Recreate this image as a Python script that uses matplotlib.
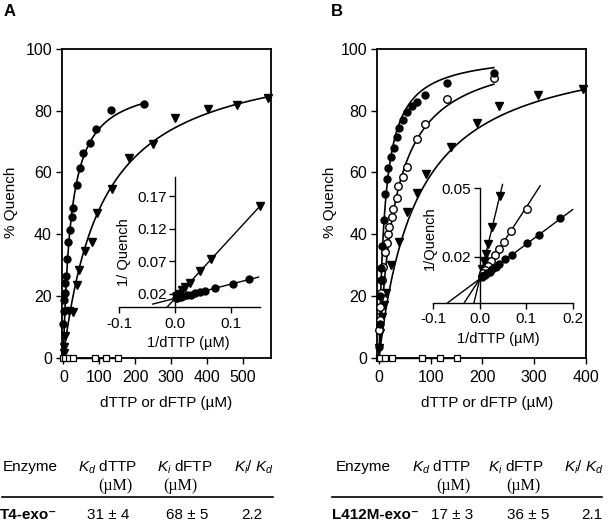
import numpy as np
import matplotlib
matplotlib.use("Agg")
import matplotlib.pyplot as plt
from matplotlib.lines import Line2D

plt.rcParams['font.family'] = ['Liberation Sans', 'DejaVu Sans']
plt.rcParams['axes.unicode_minus'] = False
plt.rcParams['mathtext.fontset'] = 'custom'
plt.rcParams['mathtext.rm'] = 'Liberation Sans'
plt.rcParams['mathtext.it'] = 'Liberation Sans:italic'
plt.rcParams['mathtext.bf'] = 'Liberation Sans:bold'

# ---------------- data: panel A (T4-exo-) ----------------
A_circ_x = [0.5, 1.5, 3, 4, 6, 8, 10, 14, 20, 24, 28, 37, 46, 56, 74, 91, 133, 225]
A_circ_y = [11, 15, 18.5, 21, 24, 26.5, 32, 37.5, 41.3, 45.6, 48.4, 56, 61.3, 66.4, 69.4, 74, 80.3, 82.2]
A_tri_x = [1, 3, 6, 17, 27, 37, 44, 61, 79, 94, 137, 183, 249, 311, 404, 483, 571]
A_tri_y = [1.5, 3.5, 7, 15, 14.8, 23.5, 28.4, 34.6, 37.3, 46.7, 54.6, 64.6, 69.3, 77.5, 80.4, 81.8, 84]
A_sq_x = [0, 5, 15, 28, 88, 120, 153]
A_sq_y = [0, 0, 0, 0, 0, 0, 0]
# hyperbolic fits (Qmax, K, end of curve)
A_circ_fit = (90.5, 22, 225)
A_tri_fit = (100.8, 110, 571)

# inset A (double reciprocal)
IA_circ_x = [0.132, 0.105, 0.072, 0.054, 0.045, 0.036, 0.028, 0.022, 0.015, 0.011, 0.008, 0.004, 0.002]
IA_circ_y = [0.043, 0.036, 0.029, 0.025, 0.023, 0.021, 0.019, 0.018, 0.0165, 0.0155, 0.015, 0.014, 0.0135]
IA_tri_x = [0.153, 0.065, 0.045, 0.027, 0.018, 0.012, 0.007, 0.004, 0.002]
IA_tri_y = [0.155, 0.073, 0.056, 0.037, 0.030, 0.026, 0.020, 0.017, 0.015]
# linear fits (intercept, slope, x start, x end)
IA_circ_line = (0.0132, 0.218, -0.04, 0.15)
IA_tri_line = (0.013, 0.93, -0.014, 0.153)

# ---------------- data: panel B (L412M-exo-) ----------------
B_fc_x = [0.5, 1.5, 2.5, 3.5, 4.5, 6, 9, 12, 15, 18, 24, 28, 34, 38, 47, 54, 63, 73, 88, 131, 222]
B_fc_y = [3.5, 11, 20, 25, 29, 36, 44.6, 53, 58, 61.3, 65, 67.8, 71.6, 74.3, 77, 79.7, 81.5, 82.9, 85.1, 88.9, 92.2]
B_oc_x = [0.5, 1, 1.5, 3, 5, 8.4, 12, 15, 17, 19.3, 24.5, 27.7, 34, 37.3, 47, 53.6, 73, 89, 131, 222]
B_oc_y = [9, 12, 16.5, 21, 25, 29.4, 34.3, 37, 40, 42.4, 45.6, 48.1, 51.6, 55.7, 58.6, 61.8, 70.7, 75.7, 83.7, 90.5]
B_tri_x = [0.5, 2, 5, 9, 13.5, 22.5, 38, 55, 74, 91, 140, 190, 233, 308, 395]
B_tri_y = [3, 8, 13, 17, 20.8, 30, 37.4, 47.3, 53.2, 59.6, 68.3, 75.9, 81.5, 85, 87]
B_sq_x = [0, 2, 12, 25, 83, 118, 150]
B_sq_y = [0, 0, 0, 0, 0, 0, 0]
B_fc_fit = (99, 11.9, 222)
B_oc_fit = (101.2, 31.6, 222)
B_tri_fit = (103.1, 74.2, 400)

IB_fc_x = [0.172, 0.128, 0.102, 0.070, 0.055, 0.042, 0.034, 0.027, 0.021, 0.016, 0.012, 0.008, 0.005]
IB_fc_y = [0.0369, 0.0297, 0.026, 0.021, 0.019, 0.0168, 0.0155, 0.0146, 0.0136, 0.0128, 0.0122, 0.0116, 0.0112]
IB_oc_x = [0.102, 0.068, 0.052, 0.041, 0.032, 0.024, 0.018, 0.012, 0.008, 0.004]
IB_oc_y = [0.041, 0.0312, 0.0265, 0.0235, 0.0207, 0.0182, 0.0162, 0.0143, 0.013, 0.0118]
IB_tri_x = [0.043, 0.027, 0.018, 0.0129, 0.009, 0.005]
IB_tri_y = [0.0465, 0.0332, 0.0255, 0.0213, 0.018, 0.0145]
IB_fc_line = (0.0104, 0.151, -0.069, 0.2)
IB_oc_line = (0.0104, 0.312, -0.033, 0.13)
IB_tri_line = (0.0104, 0.84, -0.0124, 0.049)

# table
table_header = ["Enzyme", r"$K_d$ dTTP", r"$K_i$ dFTP", r"$K_i$/ $K_d$"]
A_row = ["T4-exo\u207b", "31 \u00b1 4", "68 \u00b1 5", "2.2"]
B_row = ["L412M-exo\u207b", "17 \u00b1 3", "36 \u00b1 5", "2.1"]

# ---------------- figure ----------------
W, H = 610, 522
fig = plt.figure(figsize=(6.1, 5.22), dpi=100)


def rect(l, t, r, b):
    return [l / W, 1 - b / H, (r - l) / W, (b - t) / H]


def fx(x):
    return x / W


def fy(y):
    return 1 - y / H


MS = 5.0


def hyper(ax, fit):
    qmax, k, end = fit
    s = np.linspace(0, end, 400)
    ax.plot(s, qmax * s / (k + s), color='black', lw=1.2, zorder=2, clip_on=False)


def line(ax, p):
    a, b, x0, x1 = p
    xs = np.array([x0, x1])
    ax.plot(xs, a + b * xs, color='black', lw=1.0, zorder=2, clip_on=False)


def style_main(ax, xlim, xticks):
    ax.set_xlim(*xlim)
    ax.set_ylim(0, 100)
    ax.set_xticks(xticks)
    ax.set_yticks(range(0, 101, 20))
    for s in ax.spines.values():
        s.set_linewidth(1.3)
    ax.tick_params(direction='out', length=4, width=1.0, labelsize=11.5, pad=3)
    ax.tick_params(axis='x', pad=5)


def style_inset(ax, xlim, ylim, xticks, xtl, yticks, ytl):
    ax.set_facecolor('none')
    ax.set_xlim(*xlim)
    ax.set_ylim(*ylim)
    ax.spines['top'].set_visible(False)
    ax.spines['right'].set_visible(False)
    ax.spines['left'].set_position(('data', 0))
    for s in ('left', 'bottom'):
        ax.spines[s].set_linewidth(1.0)
    ax.set_xticks(xticks)
    ax.set_xticklabels(xtl)
    ax.set_yticks(yticks)
    ax.set_yticklabels(ytl)
    ax.tick_params(direction='out', length=4, width=1.0, labelsize=11, pad=2)
    ax.tick_params(axis='x', pad=3)


def squares(ax, xs, ys):
    ax.plot(xs, ys, color='black', lw=1.0, marker='s', ms=4.4, mfc='white',
            mec='black', mew=0.9, zorder=4, clip_on=False)


# ---- Panel A ----
axA = fig.add_axes(rect(61.7, 49, 271, 357.5))
style_main(axA, (-4.5, 578.6), range(0, 501, 100))
hyper(axA, A_circ_fit)
hyper(axA, A_tri_fit)
axA.plot(A_circ_x, A_circ_y, 'o', color='black', ms=MS, zorder=3, clip_on=False)
axA.plot(A_tri_x, A_tri_y, 'v', color='black', ms=MS + 0.4, zorder=3, clip_on=False)
squares(axA, A_sq_x, A_sq_y)

iA = fig.add_axes(rect(119.3, 176.7, 260, 307))
style_inset(iA, (-0.1, 0.1526), (0, 0.2), [-0.1, 0.0, 0.1], ["-0.1", "0.0", "0.1"],
            [0.02, 0.07, 0.12, 0.17], ["0.02", "0.07", "0.12", "0.17"])
line(iA, IA_circ_line)
line(iA, IA_tri_line)
iA.plot(IA_circ_x, IA_circ_y, 'o', color='black', ms=MS, zorder=3, clip_on=False)
iA.plot(IA_tri_x, IA_tri_y, 'v', color='black', ms=MS + 0.4, zorder=3, clip_on=False)

# ---- Panel B ----
axB = fig.add_axes(rect(377, 49, 586, 357.5))
style_main(axB, (-4, 400.4), range(0, 401, 100))
hyper(axB, B_fc_fit)
hyper(axB, B_oc_fit)
hyper(axB, B_tri_fit)
axB.plot(B_tri_x, B_tri_y, 'v', color='black', ms=MS + 0.4, zorder=3, clip_on=False)
axB.plot(B_oc_x, B_oc_y, 'o', mfc='white', mec='black', mew=1.0, ms=MS + 0.4, zorder=3, clip_on=False)
axB.plot(B_fc_x, B_fc_y, 'o', color='black', ms=MS, zorder=3, clip_on=False)
squares(axB, B_sq_x, B_sq_y)

iB = fig.add_axes(rect(433.3, 188, 572.7, 302.7))
style_inset(iB, (-0.1, 0.2), (0, 0.05), [-0.1, 0.0, 0.1, 0.2], ["-0.1", "0.0", "0.1", "0.2"],
            [0.02, 0.05], ["0.02", "0.05"])
line(iB, IB_fc_line)
line(iB, IB_oc_line)
line(iB, IB_tri_line)
iB.plot(IB_tri_x, IB_tri_y, 'v', color='black', ms=MS + 0.4, zorder=3, clip_on=False)
iB.plot(IB_oc_x, IB_oc_y, 'o', mfc='white', mec='black', mew=1.0, ms=MS + 0.4, zorder=3, clip_on=False)
iB.plot(IB_fc_x, IB_fc_y, 'o', color='black', ms=MS, zorder=3, clip_on=False)

# ---- labels ----
fig.text(fx(4), fy(12), "A", fontsize=12, fontweight='bold', ha='left', va='center')
fig.text(fx(331), fy(12), "B", fontsize=12, fontweight='bold', ha='left', va='center')
for x in (11, 330):
    fig.text(fx(x), fy(202), "% Quench", fontsize=11, rotation=90, ha='center', va='center')
fig.text(fx(166), fy(403), "dTTP or dFTP (\u00b5M)", fontsize=11, ha='center', va='center')
fig.text(fx(487), fy(403), "dTTP or dFTP (\u00b5M)", fontsize=11, ha='center', va='center')
fig.text(fx(124), fy(252), "1/ Quench", fontsize=10.5, rotation=90, ha='center', va='center')
fig.text(fx(188), fy(343), "1/dTTP (\u00b5M)", fontsize=10.5, ha='center', va='center')
fig.text(fx(430), fy(238), "1/Quench", fontsize=10.5, rotation=90, ha='center', va='center')
fig.text(fx(498), fy(339), "1/dTTP (\u00b5M)", fontsize=10.5, ha='center', va='center')

# ---- tables ----
TS = 11
serif = ['Liberation Serif', 'DejaVu Serif']


def table(hx, ux, rx, row, line_x):
    fig.text(fx(hx[0]), fy(467), table_header[0], fontsize=TS, ha=('left' if hx[0] < 10 else 'center'), va='center')
    for i in (1, 2, 3):
        fig.text(fx(hx[i]), fy(467), table_header[i], fontsize=TS, ha='center', va='center')
    for x in ux:
        fig.text(fx(x), fy(486.5), "(\u00b5M)", fontsize=TS + 0.5, family=serif, ha='center', va='center')
    fig.add_artist(Line2D([fx(line_x[0]), fx(line_x[1])], [fy(497.3), fy(497.3)],
                          transform=fig.transFigure, color='black', lw=1.2))
    fig.text(fx(rx[0]), fy(515), row[0], fontsize=TS, fontweight='bold', ha='left', va='center')
    for i in (1, 2, 3):
        fig.text(fx(rx[i]), fy(515), row[i], fontsize=TS, ha='center', va='center')


table([3, 107.5, 185, 254], [115, 180], [0, 108, 187, 252], A_row, (2, 273))
table([363.7, 441.5, 516, 584], [453, 523], [331.7, 451.7, 528, 591.7], B_row, (331.7, 602))

fig.savefig("out.png", dpi=100)
